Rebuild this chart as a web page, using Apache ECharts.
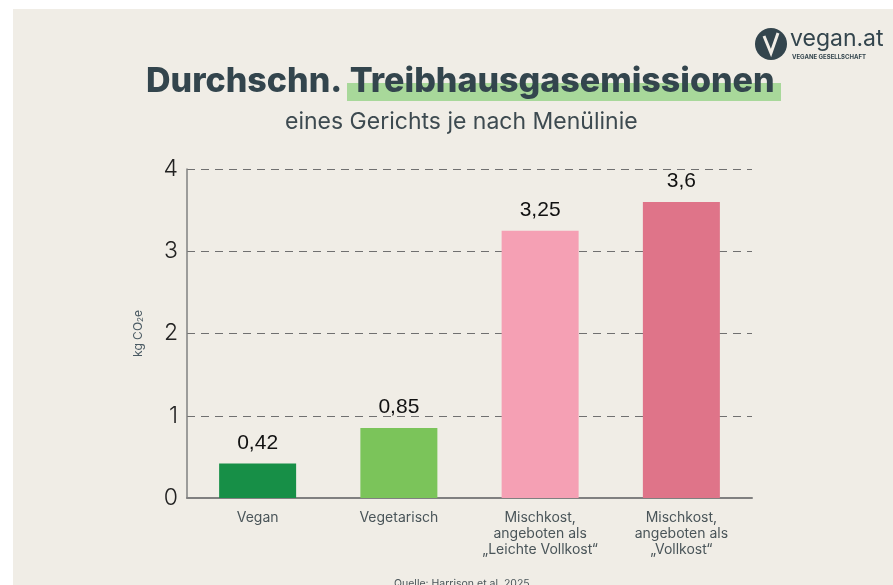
<!DOCTYPE html>
<html><head><meta charset="utf-8">
<script src="https://cdn.jsdelivr.net/npm/echarts@6/dist/echarts.min.js"></script>
<style>html,body{margin:0;padding:0;background:#fff}#c{width:893px;height:585px}</style>
</head><body><div id="c"></div>
<script>
const categories = ['Vegan', 'Vegetarisch', 'Mischkost,\nangeboten als\n„Leichte Vollkost“', 'Mischkost,\nangeboten als\n„Vollkost“'];
const values = [0.42, 0.85, 3.25, 3.6];
const barColors = ['#178f47', '#7bc45a', '#f5a0b4', '#df7489'];
const yTicks = [0, 1, 2, 3, 4];

const chart = echarts.init(document.getElementById('c'), null, {renderer: 'canvas'});
const titleFont = 'Inter, "Noto Sans", sans-serif';
chart.setOption({
  backgroundColor: '#ffffff',
  animation: false,
  graphic: [
    {type: 'rect', left: 13, top: 9, shape: {width: 880, height: 576}, style: {fill: '#f0ede6'}, z: -10},
    {type: 'rect', shape: {x: 347, y: 83, width: 434, height: 18}, style: {fill: '#a8d89a'}, z: -5},
    {type: 'text', left: 146, top: 65, z: 10, style: {
      text: 'Durchschn. Treibhausgasemissionen',
      fontFamily: titleFont, fontWeight: 800, fontSize: 34, fill: '#33454d'
    }},
    {type: 'text', left: 285, top: 111, z: 10, style: {
      text: 'eines Gerichts je nach Menülinie', fontFamily: titleFont, fontSize: 23, fill: '#3d4a50'
    }},
    {type: 'text', left: 394, top: 578, z: 10, style: {
      text: 'Quelle: Harrison et al. 2025', fontFamily: titleFont, fontSize: 10.5, fill: '#4a5559'
    }},
    {type: 'circle', shape: {cx: 771, cy: 44, r: 16}, style: {fill: '#33454d'}, z: 10},
    {type: 'polyline', shape: {points: [[764, 36], [771, 53], [778, 33]]}, style: {stroke: '#f0ede6', lineWidth: 3, fill: null}, z: 11},
    {type: 'text', left: 790, top: 28, z: 10, style: {text: 'vegan.at', fontFamily: titleFont, fontSize: 23, fill: '#33454d'}},
    {type: 'text', left: 792, top: 54, z: 10, style: {text: 'VEGANE GESELLSCHAFT', fontFamily: titleFont, fontWeight: 700, fontSize: 6, fill: '#33454d'}}
  ],
  grid: {left: 187, right: 141, top: 169, bottom: 87, containLabel: false},
  xAxis: {
    type: 'category', data: categories,
    axisLine: {lineStyle: {color: '#808080', width: 2}},
    axisTick: {show: false},
    axisLabel: {color: '#4a5559', fontFamily: titleFont, fontSize: 14, lineHeight: 16, margin: 12, interval: 0}
  },
  yAxis: {
    type: 'value', min: 0, max: 4, interval: 1,
    name: '{n|kg CO}{s|2}{n|e}',
    nameLocation: 'middle', nameGap: 42, nameRotate: 90,
    nameTextStyle: {rich: {
      n: {color: '#4a5a63', fontFamily: titleFont, fontSize: 12},
      s: {color: '#4a5a63', fontFamily: titleFont, fontSize: 8, verticalAlign: 'bottom', padding: [6, 0, 0, 0]}
    }},
    axisLine: {show: true, lineStyle: {color: '#808080', width: 1.5}},
    axisTick: {show: false},
    axisLabel: {color: '#222', fontFamily: titleFont, fontSize: 23, fontWeight: 300, margin: 9,
      formatter: v => yTicks.includes(v) ? String(v) : ''},
    splitLine: {lineStyle: {color: '#707070', type: [8, 6], width: 1.2}}
  },
  series: [{
    type: 'bar', barWidth: 77,
    data: values.map((v, i) => ({value: v, itemStyle: {color: barColors[i]}})),
    label: {show: true, position: 'top', distance: 10, color: '#111',
      fontFamily: '"Liberation Sans", Arial, sans-serif', fontSize: 21,
      formatter: p => String(p.value).replace('.', ',')}
  }]
});
</script></body></html>
